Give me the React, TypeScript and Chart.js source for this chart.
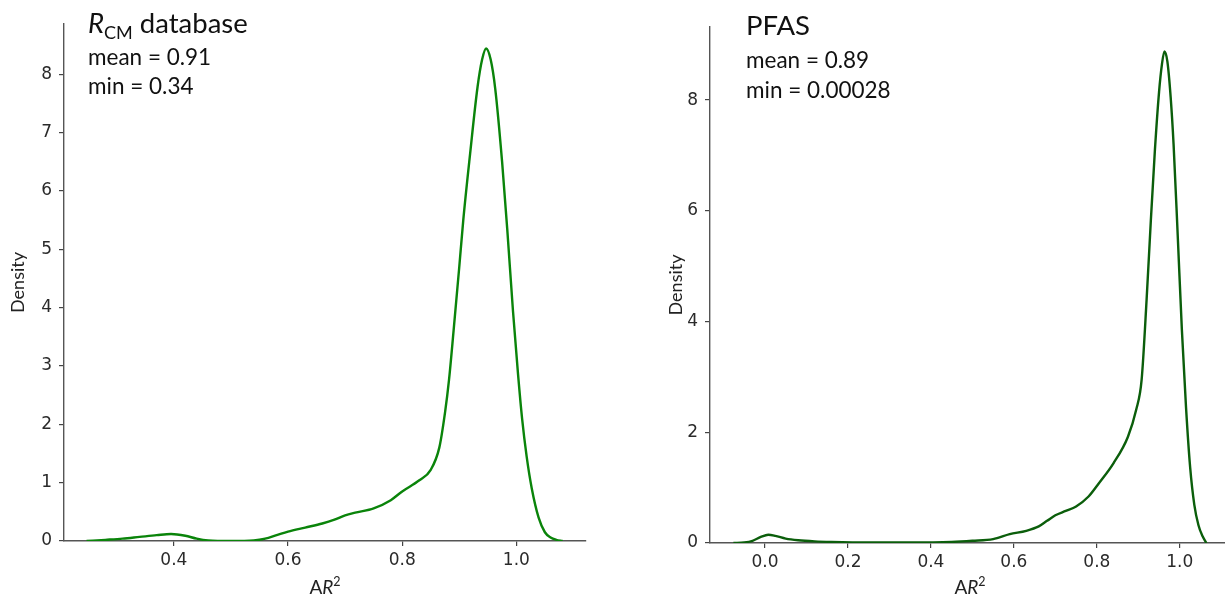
import React, { useEffect, useRef } from "react";
import { Chart, registerables } from "chart.js";

Chart.register(...registerables);

// ---------- data ----------
const leftX = [
  0.247, 0.28, 0.31, 0.34, 0.37, 0.395, 0.42, 0.44, 0.46, 0.5, 0.54, 0.56, 0.58, 0.6,
  0.63, 0.66, 0.68, 0.7, 0.72, 0.75, 0.78, 0.8, 0.83, 0.85, 0.865, 0.875, 0.882, 0.89,
  0.9, 0.907, 0.919, 0.932, 0.94, 0.947, 0.955, 0.963, 0.975, 0.984, 0.994, 1.003,
  1.01, 1.018, 1.027, 1.039, 1.05, 1.06, 1.07, 1.081,
];
const leftY = [
  0, 0.02, 0.04, 0.07, 0.1, 0.12, 0.09, 0.04, 0.01, 0.0, 0.01, 0.04, 0.1, 0.16,
  0.23, 0.3, 0.36, 0.44, 0.49, 0.56, 0.7, 0.85, 1.04, 1.22, 1.6, 2.2, 2.76, 3.6,
  4.7, 5.5, 6.64, 7.78, 8.25, 8.44, 8.25, 7.75, 6.5, 5.35, 3.95, 2.85,
  2.1, 1.45, 0.9, 0.4, 0.15, 0.06, 0.02, 0,
];

const rightX = [
  -0.076, -0.05, -0.03, -0.01, 0.008, 0.025, 0.05, 0.08, 0.12, 0.16, 0.25, 0.35, 0.45,
  0.5, 0.55, 0.59, 0.63, 0.66, 0.68, 0.7, 0.725, 0.75, 0.78, 0.805, 0.84, 0.875, 0.895,
  0.908, 0.92, 0.93, 0.94, 0.95, 0.957, 0.963, 0.97, 0.978, 0.985, 0.995, 1.005, 1.015,
  1.025, 1.035, 1.045, 1.055, 1.064,
];
const rightY = [
  0, 0.01, 0.04, 0.11, 0.15, 0.13, 0.08, 0.05, 0.03, 0.02, 0.01, 0.01, 0.02,
  0.04, 0.07, 0.16, 0.22, 0.3, 0.4, 0.5, 0.58, 0.66, 0.84, 1.08, 1.44, 1.92, 2.41,
  2.95, 4.4, 5.8, 7.1, 8.15, 8.65, 8.88, 8.7, 8.05, 7.2, 5.55, 3.85, 2.45,
  1.36, 0.69, 0.32, 0.12, 0,
];

const leftXTicks = [0.4, 0.6, 0.8, 1.0];
const leftYTicks = [0, 1, 2, 3, 4, 5, 6, 7, 8];
const rightXTicks = [0.0, 0.2, 0.4, 0.6, 0.8, 1.0];
const rightYTicks = [0, 2, 4, 6, 8];

const leftXRange = [0.2075, 1.122];
const leftYRange = [0, 8.86];
const rightXRange = [-0.1325, 1.121];
const rightYRange = [0, 9.32];

const leftStats = ["mean = 0.91", "min = 0.34"];
const rightStats = ["mean = 0.89", "min = 0.00028"];
const yAxisLabel = "Density";

// ---------- rich text helper ----------
type Seg = { t: string; size: number; italic?: boolean; dy?: number };
const FAMILY = "Lato, 'Open Sans', sans-serif";
const fontOf = (s: Seg) => `${s.italic ? "italic " : ""}${s.size}px ${FAMILY}`;

function drawSegs(ctx: CanvasRenderingContext2D, x: number, y: number, segs: Seg[], align: "left" | "center") {
  let w = 0;
  for (const s of segs) {
    ctx.font = fontOf(s);
    w += ctx.measureText(s.t).width;
  }
  let cx = align === "center" ? x - w / 2 : x;
  ctx.textAlign = "left";
  ctx.textBaseline = "alphabetic";
  for (const s of segs) {
    ctx.font = fontOf(s);
    ctx.fillText(s.t, cx, y + (s.dy || 0));
    cx += ctx.measureText(s.t).width;
  }
}

type Panel = {
  xs: number[];
  ys: number[];
  color: string;
  xTicks: number[];
  yTicks: number[];
  xRange: number[];
  yRange: number[];
  title: Seg[];
  stats: string[];
  canvasLeft: number;
  canvasWidth: number;
  padTop: number;
  padRight: number;
  yAxisWidth: number;
  xAxisHeight: number;
  textX: number;
  baselines: number[];
};

const panels: Panel[] = [
  {
    xs: leftX,
    ys: leftY,
    color: "#0a840a",
    xTicks: leftXTicks,
    yTicks: leftYTicks,
    xRange: leftXRange,
    yRange: leftYRange,
    title: [
      { t: "R", size: 27.5, italic: true },
      { t: "CM", size: 18, dy: 6 },
      { t: " database", size: 27.5 },
    ],
    stats: leftStats,
    canvasLeft: 0,
    canvasWidth: 600,
    padTop: 24,
    padRight: 14,
    yAxisWidth: 64,
    xAxisHeight: 60,
    textX: 88,
    baselines: [33, 65, 94],
  },
  {
    xs: rightX,
    ys: rightY,
    color: "#0b5e0b",
    xTicks: rightXTicks,
    yTicks: rightYTicks,
    xRange: rightXRange,
    yRange: rightYRange,
    title: [{ t: "PFAS", size: 27.5 }],
    stats: rightStats,
    canvasLeft: 658,
    canvasWidth: 582,
    padTop: 27,
    padRight: 10,
    yAxisWidth: 52,
    xAxisHeight: 58,
    textX: 746 - 658,
    baselines: [35, 68, 98],
  },
];

function makeChart(canvas: HTMLCanvasElement, p: Panel) {
  const annot = {
    id: "annot",
    afterDraw(chart: any) {
      const ctx = chart.ctx as CanvasRenderingContext2D;
      ctx.save();
      ctx.fillStyle = "#111";
      drawSegs(ctx, p.textX, p.baselines[0], p.title, "left");
      drawSegs(ctx, p.textX, p.baselines[1], [{ t: p.stats[0], size: 22.5 }], "left");
      drawSegs(ctx, p.textX, p.baselines[2], [{ t: p.stats[1], size: 22.5 }], "left");
      const ca = chart.chartArea;
      ctx.fillStyle = "#222";
      drawSegs(
        ctx,
        (ca.left + ca.right) / 2,
        594,
        [
          { t: "A", size: 19 },
          { t: "R", size: 19, italic: true },
          { t: "2", size: 12.5, dy: -8 },
        ],
        "center"
      );
      ctx.restore();
    },
  };

  return new Chart(canvas, {
    type: "line",
    data: {
      datasets: [
        {
          data: p.xs.map((x, i) => ({ x, y: p.ys[i] })),
          borderColor: p.color,
          borderWidth: 2.4,
          pointRadius: 0,
          fill: false,
          cubicInterpolationMode: "monotone",
        },
      ],
    },
    options: {
      animation: false,
      responsive: false,
      devicePixelRatio: 1,
      layout: { padding: { top: p.padTop, right: p.padRight, left: 0, bottom: 0 } },
      plugins: { legend: { display: false }, tooltip: { enabled: false } },
      scales: {
        x: {
          type: "linear",
          min: p.xRange[0],
          max: p.xRange[1],
          afterBuildTicks: (s: any) => {
            s.ticks = p.xTicks.map((v) => ({ value: v }));
          },
          afterFit: (s: any) => {
            s.height = p.xAxisHeight;
          },
          grid: { drawOnChartArea: false, drawTicks: true, tickLength: 5, color: "#444", lineWidth: 1.2 },
          border: { display: true, color: "#555", width: 1.4 },
          ticks: {
            color: "#2a2a2a",
            padding: 4,
            maxRotation: 0,
            autoSkip: false,
            font: { family: "'DejaVu Sans', sans-serif", size: 17 },
            callback: (v: any) => Number(v).toFixed(1),
          },
          title: { display: false },
        },
        y: {
          type: "linear",
          min: p.yRange[0],
          max: p.yRange[1],
          afterBuildTicks: (s: any) => {
            s.ticks = p.yTicks.map((v) => ({ value: v }));
          },
          afterFit: (s: any) => {
            s.width = p.yAxisWidth;
          },
          grid: { drawOnChartArea: false, drawTicks: true, tickLength: 5, color: "#444", lineWidth: 1.2 },
          border: { display: true, color: "#555", width: 1.4 },
          ticks: {
            color: "#2a2a2a",
            padding: 7,
            autoSkip: false,
            font: { family: "'DejaVu Sans', sans-serif", size: 17 },
            callback: (v: any) => String(v),
          },
          title: {
            display: true,
            text: yAxisLabel,
            color: "#222",
            padding: { top: 7, bottom: 0 },
            font: { family: FAMILY, size: 18 },
          },
        },
      },
    },
    plugins: [annot],
  } as any);
}

function Panel({ p }: { p: Panel }) {
  const ref = useRef<HTMLCanvasElement | null>(null);
  useEffect(() => {
    if (!ref.current) return;
    const c = makeChart(ref.current, p);
    return () => c.destroy();
  }, [p]);
  return (
    <canvas
      ref={ref}
      width={p.canvasWidth}
      height={601}
      style={{ position: "absolute", left: p.canvasLeft, top: 0, width: p.canvasWidth, height: 601 }}
    />
  );
}

export default function App() {
  return (
    <div
      style={{
        position: "absolute",
        left: 0,
        top: 0,
        width: 1225,
        height: 601,
        overflow: "hidden",
        background: "#fff",
      }}
    >
      {panels.map((p, i) => (
        <Panel key={i} p={p} />
      ))}
    </div>
  );
}
